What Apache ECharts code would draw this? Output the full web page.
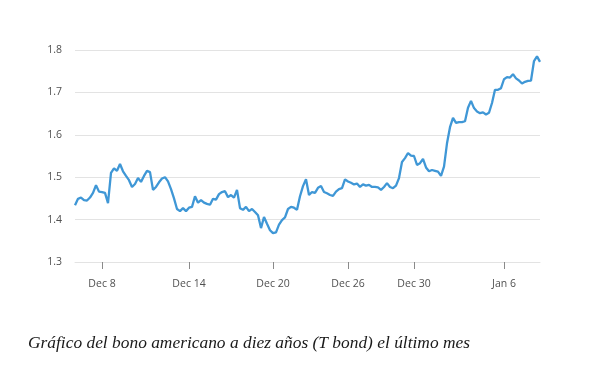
<!DOCTYPE html>
<html>
<head>
<meta charset="utf-8">
<script src="https://cdn.jsdelivr.net/npm/echarts@6/dist/echarts.min.js"></script>
<style>
html,body{margin:0;padding:0;background:#fff;}
#chart{width:589px;height:375px;}
</style>
</head>
<body>
<div id="chart"></div>
<script>
// Yield values (%), sampled evenly along the time axis
const yields = [
1.434,1.449,1.452,1.446,1.445,1.452,1.463,1.481,1.466,1.465,
1.463,1.439,1.51,1.521,1.515,1.531,1.514,1.503,1.493,1.477,
1.484,1.498,1.489,1.503,1.515,1.512,1.47,1.477,1.488,1.497,
1.50,1.49,1.472,1.45,1.425,1.42,1.427,1.42,1.428,1.43,
1.455,1.44,1.446,1.44,1.437,1.435,1.449,1.447,1.46,1.465,
1.467,1.453,1.458,1.452,1.47,1.427,1.423,1.43,1.42,1.425,
1.418,1.41,1.38,1.406,1.39,1.375,1.368,1.37,1.388,1.399,
1.405,1.425,1.43,1.428,1.423,1.455,1.479,1.495,1.458,1.465,
1.463,1.475,1.479,1.465,1.462,1.458,1.456,1.466,1.472,1.474,
1.495,1.49,1.487,1.483,1.485,1.477,1.483,1.48,1.482,1.477,
1.477,1.476,1.47,1.477,1.486,1.477,1.474,1.48,1.498,1.536,
1.545,1.557,1.551,1.55,1.529,1.533,1.543,1.523,1.514,1.517,
1.515,1.513,1.503,1.525,1.58,1.618,1.64,1.628,1.63,1.63,
1.632,1.664,1.68,1.663,1.655,1.651,1.653,1.648,1.652,1.675,
1.706,1.706,1.71,1.731,1.736,1.735,1.743,1.733,1.728,1.721,
1.725,1.727,1.728,1.774,1.785,1.772
];
// Date labels and the sample index where each falls
const tickLabels = ['Dec 8','Dec 14','Dec 20','Dec 26','Dec 30','Jan 6'];
const tickIndex = [9, 38, 66, 91, 113, 143];
const yTicks = [1.3, 1.4, 1.5, 1.6, 1.7, 1.8];
const caption = 'Gráfico del bono americano a diez años (T bond) el último mes';

const categories = yields.map((v, i) => {
  const k = tickIndex.indexOf(i);
  return k >= 0 ? tickLabels[k] : String(i);
});
const isTick = (i) => tickIndex.indexOf(i) >= 0;

const chart = echarts.init(document.getElementById('chart'), null, {renderer: 'canvas'});
chart.setOption({
  animation: false,
  backgroundColor: '#ffffff',
  title: {
    text: caption,
    left: 23,
    top: 330,
    textStyle: {
      fontFamily: 'Liberation Serif',
      fontStyle: 'italic',
      fontWeight: 'normal',
      fontSize: 17.4,
      color: '#1a1a1a'
    }
  },
  grid: {left: 75, right: 49, top: 50, bottom: 113, containLabel: false},
  xAxis: {
    type: 'category',
    data: categories,
    boundaryGap: false,
    axisLine: {show: true, lineStyle: {color: '#e3e3e3', width: 1}},
    axisTick: {show: true, interval: (i) => isTick(i), length: 7, lineStyle: {color: '#8a8a8a', width: 1}},
    axisLabel: {
      interval: (i) => isTick(i),
      margin: 17,
      fontFamily: 'Open Sans',
      fontSize: 10.5,
      color: '#505050'
    },
    splitLine: {show: false}
  },
  yAxis: {
    type: 'value',
    min: yTicks[0],
    max: yTicks[yTicks.length - 1],
    interval: 0.1,
    axisLine: {show: false},
    axisTick: {show: false},
    axisLabel: {
      margin: 13,
      fontFamily: 'Open Sans',
      fontSize: 10.5,
      color: '#505050',
      formatter: (v) => v.toFixed(1)
    },
    splitLine: {show: true, lineStyle: {color: '#e3e3e3', width: 1}}
  },
  series: [{
    type: 'line',
    data: yields,
    showSymbol: false,
    symbol: 'none',
    lineStyle: {color: '#3f97d6', width: 2.3},
    z: 3
  }]
});
</script>
</body>
</html>
